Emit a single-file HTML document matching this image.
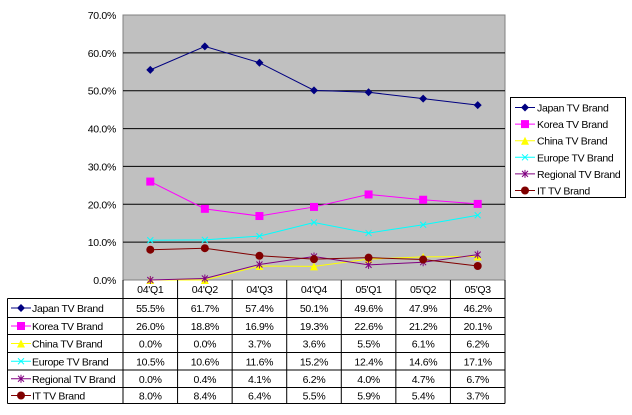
<!DOCTYPE html>
<html><head><meta charset="utf-8"><style>
body{margin:0;background:#fff;}
svg text{font-family:"Liberation Sans",Arial,sans-serif;font-size:10.5px;fill:#000;letter-spacing:-0.3px;}
</style></head><body>
<svg id="c" width="632" height="410" xmlns="http://www.w3.org/2000/svg">
<rect x="123" y="15" width="382" height="265" fill="#c0c0c0" stroke="#808080"/>
<g id="grid"></g><g id="series"></g><g id="table"></g><g id="legend"></g>
</svg>
<script>
const categories=["04'Q1","04'Q2","04'Q3","04'Q4","05'Q1","05'Q2","05'Q3"];
const seriesNames=["Japan TV Brand","Korea TV Brand","China TV Brand","Europe TV Brand","Regional TV Brand","IT TV Brand"];
const japan=[55.5,61.7,57.4,50.1,49.6,47.9,46.2];
const korea=[26.0,18.8,16.9,19.3,22.6,21.2,20.1];
const china=[0.0,0.0,3.7,3.6,5.5,6.1,6.2];
const europe=[10.5,10.6,11.6,15.2,12.4,14.6,17.1];
const regional=[0.0,0.4,4.1,6.2,4.0,4.7,6.7];
const ittv=[8.0,8.4,6.4,5.5,5.9,5.4,3.7];
const yTicks=[0,10,20,30,40,50,60,70];
const values=[japan,korea,china,europe,regional,ittv];
const colors=["#000080","#ff00ff","#ffff00","#00ffff","#800080","#800000"];
const markers=["diamond","square","triangle","x","star","circle"];
const NS="http://www.w3.org/2000/svg";
const X0=123,X1=505,Y0=280,Y1=15,colW=(X1-X0)/categories.length;
const x=i=>X0+colW*(i+0.5);
const y=v=>Y0-(v/70)*(Y0-Y1);
function mk(tag,attrs,parent,text){const e=document.createElementNS(NS,tag);for(const k in attrs)e.setAttribute(k,attrs[k]);if(text!==undefined)e.textContent=text;parent.appendChild(e);return e;}
const grid=document.getElementById('grid');
yTicks.forEach(t=>{
  if(t>0&&t<70){const l=mk('line',{x1:X0,x2:X1,y1:y(t),y2:y(t),stroke:'#000','stroke-width':1},grid);
  
  }
  const tx=mk('text',{x:116,y:y(t)+4,'text-anchor':'end'},grid,t.toFixed(1)+'%');
  
  
});
function marker(type,cx,cy,col,parent){
  let e;
  if(type==='diamond')e=mk('polygon',{points:`${cx},${cy-4} ${cx+4},${cy} ${cx},${cy+4} ${cx-4},${cy}`,fill:col},parent);
  else if(type==='square')e=mk('rect',{x:cx-4,y:cy-4,width:8,height:8,fill:col},parent);
  else if(type==='triangle')e=mk('polygon',{points:`${cx},${cy-4} ${cx+4},${cy+4} ${cx-4},${cy+4}`,fill:col},parent);
  else if(type==='x')e=mk('path',{d:`M${cx-3},${cy-3}L${cx+3},${cy+3}M${cx-3},${cy+3}L${cx+3},${cy-3}`,stroke:col,'stroke-width':1},parent);
  else if(type==='star')e=mk('path',{d:`M${cx-3},${cy-3}L${cx+3},${cy+3}M${cx-3},${cy+3}L${cx+3},${cy-3}M${cx},${cy-4}L${cx},${cy+4}`,stroke:col,'stroke-width':1},parent);
  else e=mk('circle',{cx:cx,cy:cy,r:4,fill:col},parent);
  
  
}
const sg=document.getElementById('series');
values.forEach((vals,s)=>{
  const p=mk('polyline',{points:vals.map((v,i)=>x(i)+','+y(v)).join(' '),fill:'none',stroke:colors[s],'stroke-width':1},sg);
  
  
  vals.forEach((v,i)=>marker(markers[s],x(i),y(v),colors[s],sg));
});
const tg=document.getElementById('table');
const rowY=[280,298.5,317.5,334.5,352.5,370,387.5,403.5];
const tl=(a,b,c,d)=>{const l=mk('line',{x1:a,y1:b,x2:c,y2:d,stroke:'#000','stroke-width':1},tg);};
tl(X0,280,X0,403.5);
for(let i=1;i<=categories.length;i++)tl(X0+colW*i,280,X0+colW*i,403.5);
tl(7.5,298.5,7.5,403.5);
tl(X0,298.5,X1,298.5);
for(let r=2;r<rowY.length;r++)tl(7.5,rowY[r],X1,rowY[r]);
tl(7.5,298.5,X0,298.5);
categories.forEach((c,i)=>{const t=mk('text',{x:x(i),y:293,'text-anchor':'middle'},tg,c);});
values.forEach((vals,s)=>{
  const cy=(rowY[s+1]+rowY[s+2])/2;
  mk('line',{x1:11,x2:31,y1:cy,y2:cy,stroke:colors[s]},tg);
  marker(markers[s],21,cy,colors[s],tg);
  const n=mk('text',{x:32,y:cy+4,'font-size':'10px'},tg,seriesNames[s]);
  vals.forEach((v,i)=>{const t=mk('text',{x:x(i),y:cy+4,'text-anchor':'middle'},tg,v.toFixed(1)+'%');});
});
const lg=document.getElementById('legend');
const lb=mk('rect',{x:510.5,y:97.5,width:115,height:100,fill:'#fff',stroke:'#000'},lg);


seriesNames.forEach((n,s)=>{
  const cy=107.5+s*16.6;
  mk('line',{x1:515,x2:535,y1:cy,y2:cy,stroke:colors[s]},lg);
  marker(markers[s],525,cy,colors[s],lg);
  const t=mk('text',{x:537,y:cy+4,'font-size':'10px'},lg,n);
});
</script>
</body></html>
